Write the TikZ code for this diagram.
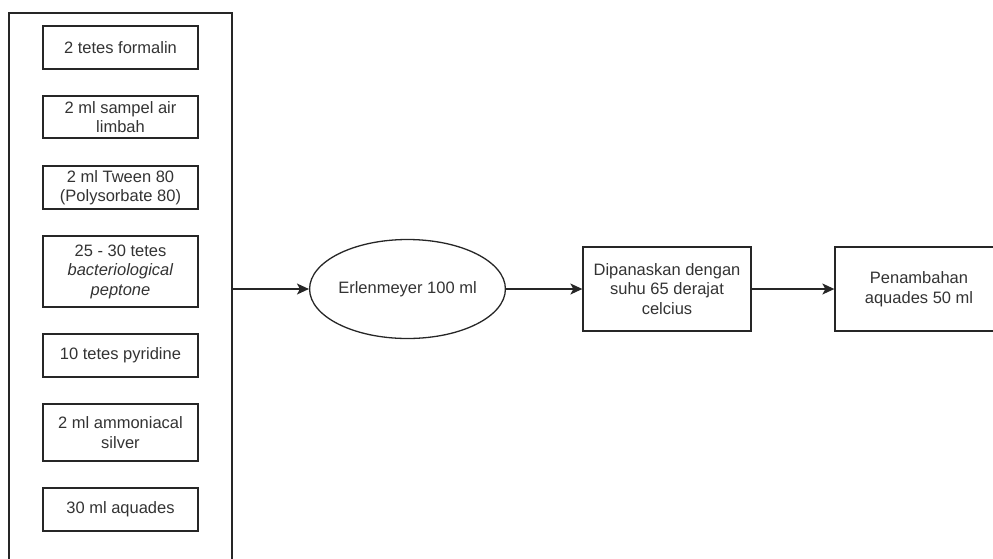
\documentclass[tikz,border=0pt]{standalone}
\usepackage{fontspec}
\setmainfont{Liberation Sans}
\usetikzlibrary{arrows.meta, positioning, shapes.geometric}
\definecolor{Garis}{HTML}{262626}
\definecolor{Teks}{HTML}{333333}
\tikzset{
  box/.style={
    rectangle, draw=Garis, line width=1.3pt,
    minimum width=#1, align=center, text=Teks,
    inner sep=2pt, font=\fontsize{16.5}{19.5}\selectfont
  },
  box/.default=155pt,
  oval/.style={
    ellipse, draw=Garis, line width=1.3pt,
    minimum width=183pt, minimum height=99pt, inner sep=0pt,
    text=Teks, font=\fontsize{16.5}{19.5}\selectfont
  },
  arr/.style={-{Stealth[length=12pt, width=11pt, inset=3pt]}, line width=1.3pt, color=Garis},
}
\begin{document}
\begin{tikzpicture}[x=1pt, y=-1pt]
\useasboundingbox (0,0) rectangle (993,558);
\clip (0,0) rectangle (993,558);

% wadah bahan
\node[box=223pt, minimum height=562pt] at (120.5,294) (wadah) {};

\node[box, minimum height=43pt] at (120.5,47.5) (formalin) {2 tetes formalin};
\node[box, minimum height=42pt] at (120.5,117) (sampel) {2 ml sampel air\\limbah};
\node[box, minimum height=43pt] at (120.5,187.5) (tween) {2 ml Tween 80\\(Polysorbate 80)};
\node[box, minimum height=71pt] at (120.5,271.5) (pepton) {25 - 30 tetes\\\textit{bacteriological}\\\textit{peptone}};
\node[box, minimum height=43pt] at (120.5,355.5) (piridin) {10 tetes pyridine};
\node[box, minimum height=57pt] at (120.5,432.5) (silver) {2 ml ammoniacal\\silver};
\node[box, minimum height=43pt] at (120.5,509.5) (aquades) {30 ml aquades};

% alur proses
\node[oval] at (407.5,289) (erl) {Erlenmeyer 100 ml};
\node[box=168pt, minimum height=84pt] at (667,289) (panas) {Dipanaskan dengan\\suhu 65 derajat\\celcius};
\node[box=168pt, minimum height=84pt] at (919,289) (tambah) {Penambahan\\aquades 50 ml};

\draw[arr] (wadah.east |- erl.west) -- (erl.west);
\draw[arr] (erl.east) -- (panas.west);
\draw[arr] (panas.east) -- (tambah.west);

\end{tikzpicture}
\end{document}
